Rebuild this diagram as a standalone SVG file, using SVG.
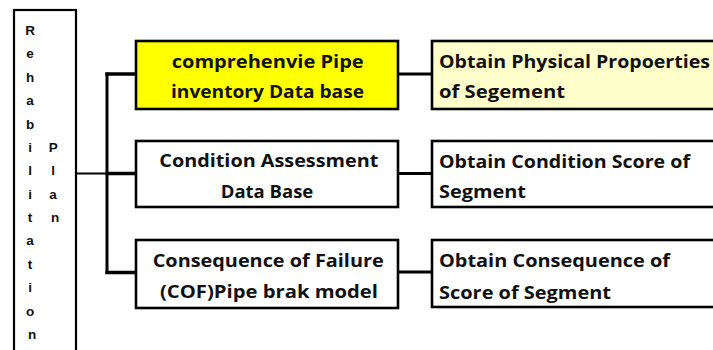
<svg xmlns="http://www.w3.org/2000/svg" width="713" height="350" viewBox="0 0 713 350">
  <style>
    .box { stroke: #000; stroke-width: 2.6; }
    .wire { stroke: #000; fill: none; stroke-linecap: square; }
    .lbl { font-family: "Open Sans", "Liberation Sans", sans-serif; font-weight: bold; font-size: 17.5px; fill: #111; }
    .vert { font-family: "Liberation Sans", Arial, sans-serif; font-weight: bold; font-size: 13.5px; fill: #111; text-anchor: middle; }
  </style>
  <rect x="0" y="0" width="713" height="350" fill="#fff"/>

  <!-- root: vertical title box -->
  <g id="rehabilitation-plan">
    <rect x="14" y="10" width="62" height="360" fill="#fff" stroke="#000" stroke-width="2.2"/>
    <text class="vert">
      <tspan x="32" y="35">R</tspan>
      <tspan x="32" y="58.4">e</tspan>
      <tspan x="32" y="81.8">h</tspan>
      <tspan x="32" y="105.1">a</tspan>
      <tspan x="32" y="128.5">b</tspan>
      <tspan x="32" y="151.9">i</tspan>
      <tspan x="32" y="175.3">l</tspan>
      <tspan x="32" y="198.7">i</tspan>
      <tspan x="32" y="222">t</tspan>
      <tspan x="32" y="245.4">a</tspan>
      <tspan x="32" y="268.8">t</tspan>
      <tspan x="32" y="292.2">i</tspan>
      <tspan x="32" y="315.6">o</tspan>
      <tspan x="32" y="339">n</tspan>
    </text>
    <text class="vert">
      <tspan x="55" y="151.9">P</tspan>
      <tspan x="55" y="175.3">l</tspan>
      <tspan x="55" y="198.7">a</tspan>
      <tspan x="55" y="222">n</tspan>
    </text>
  </g>

  <!-- connectors -->
  <g id="connectors">
    <line class="wire" x1="77" y1="173.5" x2="107" y2="173.5" stroke-width="2.2"/>
    <line class="wire" x1="107" y1="74" x2="107" y2="272.5" stroke-width="3"/>
    <line class="wire" x1="107" y1="74" x2="136" y2="74" stroke-width="3.3"/>
    <line class="wire" x1="107" y1="173.5" x2="136" y2="173.5" stroke-width="3.3"/>
    <line class="wire" x1="107" y1="272.5" x2="136" y2="272.5" stroke-width="3.3"/>
    <line class="wire" x1="398" y1="74" x2="432" y2="74" stroke-width="3"/>
    <line class="wire" x1="398" y1="173.5" x2="432" y2="173.5" stroke-width="3"/>
    <line class="wire" x1="398" y1="272" x2="432" y2="272" stroke-width="3"/>
  </g>

  <!-- second level: data sources -->
  <g id="pipe-inventory">
    <rect class="box" x="136" y="41" width="262" height="68" fill="#ffff00"/>
    <text class="lbl" x="171.7" y="68" textLength="192" lengthAdjust="spacingAndGlyphs">comprehenvie Pipe</text>
    <text class="lbl" x="171" y="98" textLength="193" lengthAdjust="spacingAndGlyphs">inventory Data base</text>
  </g>
  <g id="condition-assessment">
    <rect class="box" x="136" y="141" width="262" height="66" fill="#fff"/>
    <text class="lbl" x="159.3" y="167" textLength="219" lengthAdjust="spacingAndGlyphs">Condition Assessment</text>
    <text class="lbl" x="220.7" y="198" textLength="92.6" lengthAdjust="spacingAndGlyphs">Data Base</text>
  </g>
  <g id="consequence-of-failure">
    <rect class="box" x="136" y="240" width="262" height="68" fill="#fff"/>
    <text class="lbl" x="152.7" y="266.5" textLength="231" lengthAdjust="spacingAndGlyphs">Consequence of Failure</text>
    <text class="lbl" x="160" y="298" textLength="218" lengthAdjust="spacingAndGlyphs">(COF)Pipe brak model</text>
  </g>

  <!-- third level: segment results -->
  <g id="physical-properties">
    <rect class="box" x="432" y="41" width="300" height="68" fill="#ffffcc"/>
    <text class="lbl" x="439" y="67.5" textLength="271" lengthAdjust="spacingAndGlyphs">Obtain Physical Propoerties</text>
    <text class="lbl" x="439" y="98" textLength="126" lengthAdjust="spacingAndGlyphs">of Segement</text>
  </g>
  <g id="condition-score">
    <rect class="box" x="432" y="141" width="300" height="66" fill="#fff"/>
    <text class="lbl" x="439" y="167.5" textLength="251" lengthAdjust="spacingAndGlyphs">Obtain Condition Score of</text>
    <text class="lbl" x="439" y="197.5" textLength="87" lengthAdjust="spacingAndGlyphs">Segment</text>
  </g>
  <g id="consequence-score">
    <rect class="box" x="432" y="240" width="300" height="67" fill="#fff"/>
    <text class="lbl" x="439" y="267" textLength="231" lengthAdjust="spacingAndGlyphs">Obtain Consequence of</text>
    <text class="lbl" x="439" y="298.5" textLength="172" lengthAdjust="spacingAndGlyphs">Score of Segment</text>
  </g>
</svg>
